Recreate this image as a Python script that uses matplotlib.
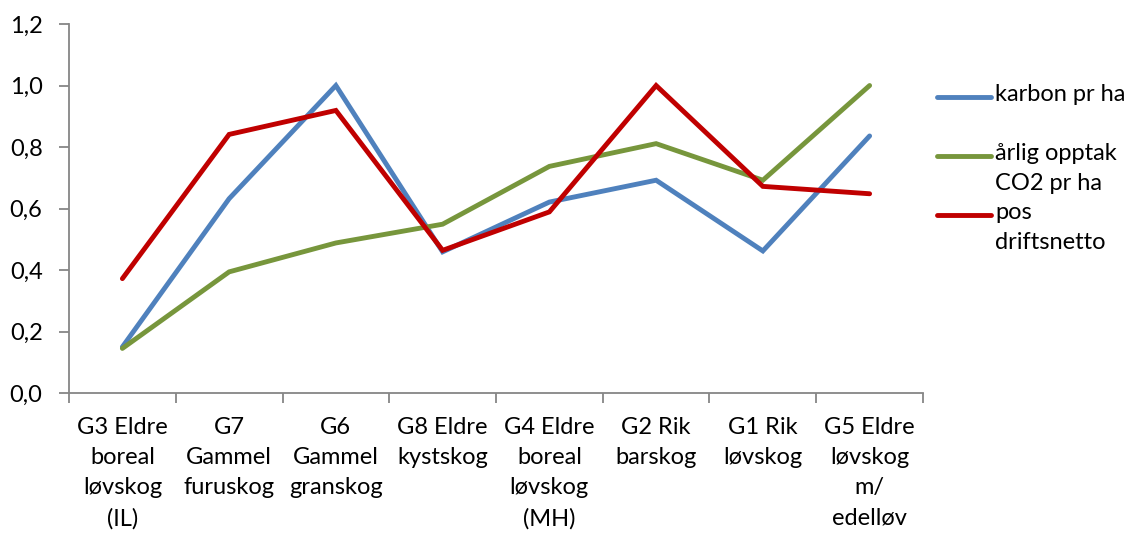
import matplotlib
matplotlib.use("Agg")
import matplotlib.pyplot as plt
from matplotlib.lines import Line2D
import numpy as np

plt.rcParams['font.family'] = ['Lato', 'DejaVu Sans']

# categories (x axis) and the three series
categories = ["G3 Eldre\nboreal\nløvskog\n(IL)", "G7\nGammel\nfuruskog", "G6\nGammel\ngranskog",
              "G8 Eldre\nkystskog", "G4 Eldre\nboreal\nløvskog\n(MH)", "G2 Rik\nbarskog",
              "G1 Rik\nløvskog", "G5 Eldre\nløvskog\nm/\nedelløv"]
karbon = [0.150, 0.632, 1.000, 0.459, 0.621, 0.692, 0.462, 0.836]
opptak = [0.145, 0.394, 0.488, 0.549, 0.737, 0.811, 0.692, 1.000]
drift = [0.372, 0.841, 0.919, 0.464, 0.589, 1.000, 0.672, 0.648]
labels = ["karbon pr ha", "årlig opptak\nCO2 pr ha", "pos\ndriftsnetto"]
colors = ["#4F81BD", "#77963C", "#C00000"]
yticks = [0.0, 0.2, 0.4, 0.6, 0.8, 1.0, 1.2]

fs = 17

fig = plt.figure(figsize=(11.35, 5.35), dpi=100)
ax = fig.add_axes([0.0608, 0.2654, 0.7524, 0.6897])

x = np.arange(1, len(categories) + 1)
for vals, c in zip([karbon, opptak, drift], colors):
    ax.plot(x, vals, color=c, lw=3.5, solid_capstyle="round", solid_joinstyle="miter")

grey = "#868686"
ax.set_xlim(0.5, len(categories) + 0.5)
ax.set_ylim(0, 1.2)
ax.set_yticks(yticks)
ax.set_yticklabels([f"{v:.1f}".replace(".", ",") for v in yticks], fontsize=fs)
ax.set_xticks(np.arange(0.5, len(categories) + 1, 1.0))
ax.set_xticklabels([])
ax.set_xticks(x, minor=True)
ax.set_xticklabels(categories, minor=True, fontsize=fs, linespacing=1.55, va="top")
ax.tick_params(axis="x", which="minor", length=0, pad=17)
ax.tick_params(axis="both", which="major", length=7, width=1.3, color=grey, direction="out")
ax.tick_params(axis="y", pad=12)
for s in ["top", "right"]:
    ax.spines[s].set_visible(False)
for s in ["left", "bottom"]:
    ax.spines[s].set_color(grey)
    ax.spines[s].set_linewidth(1.3)

# legend drawn by hand so that the handle sits next to the first text line
leg_y = [97, 156, 215]
for lab, c, yy in zip(labels, colors, leg_y):
    yf = 1 - yy / 535
    fig.add_artist(Line2D([937 / 1135, 991 / 1135], [yf, yf], color=c, lw=3.5,
                          solid_capstyle="round", transform=fig.transFigure))
    fig.text(995 / 1135, yf + 13 / 535, lab, fontsize=fs, va="top", ha="left", linespacing=1.55)

fig.savefig("out.png", dpi=100)
